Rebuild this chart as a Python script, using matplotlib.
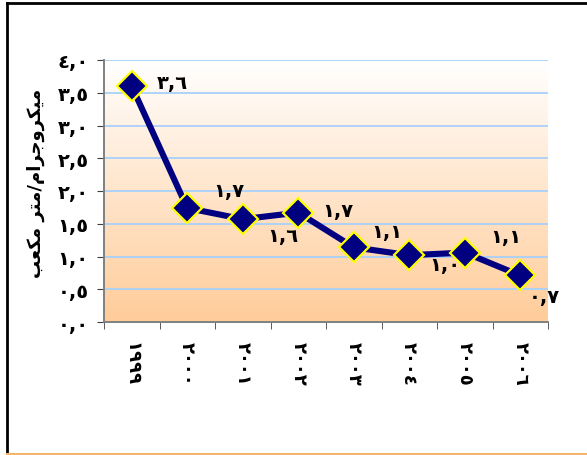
import numpy as np
import matplotlib.pyplot as plt
from matplotlib.lines import Line2D

# values
years = [1999, 2000, 2001, 2002, 2003, 2004, 2005, 2006]
values = [3.60, 1.74, 1.57, 1.67, 1.14, 1.02, 1.06, 0.71]
y_ticks = [0.0, 0.5, 1.0, 1.5, 2.0, 2.5, 3.0, 3.5, 4.0]

# label offsets in pixels (dx, dy up)
label_offsets = [(41, 4), (42, 18), (40, -16), (40, 2), (33, 16), (36, -9), (41, 16), (24, -21)]

# "ميكروجرام/متر مكعب" in presentation forms, visual order
ylabel_txt = "\ufe90\ufecc\ufedc\ufee3 \ufeae\ufe98\ufee3/\ufee1\ufe8d\ufeae\ufe9f\ufeed\ufeae\ufedc\ufef4\ufee3"

AR_DIGITS = str.maketrans("0123456789", "\u0660\u0661\u0662\u0663\u0664\u0665\u0666\u0667\u0668\u0669")


def ar_num(v):
    return ("%.1f" % v).replace(".", ",").translate(AR_DIGITS)


plt.rcParams['font.family'] = ['DejaVu Sans']
W, H = 587, 456
fig = plt.figure(figsize=(W / 100, H / 100), dpi=100)

# outer frame (top + left in black, bottom in orange)
fig.add_artist(Line2D([6.5 / W, 6.5 / W], [0, 1 - 4 / H], color='black', lw=2))
fig.add_artist(Line2D([6.5 / W, 1], [1 - 4 / H, 1 - 4 / H], color='black', lw=2))
fig.add_artist(Line2D([6.5 / W, 1], [1.2 / H, 1.2 / H], color='#F4B66A', lw=1.5))

left, right, bottom, top = 104, 548, 323, 61
ax = fig.add_axes([left / W, 1 - bottom / H, (right - left) / W, (bottom - top) / H])

x = np.arange(len(years))
ax.set_xlim(-0.5, len(years) - 0.5)
ax.set_ylim(0, 4)

# background gradient white (top) -> light orange (bottom)
grad = np.linspace(0, 1, 256)[:, None]
c_top = np.array([1.0, 1.0, 1.0])
c_bot = np.array([1.0, 0.80, 0.60])
img = c_top + (c_bot - c_top) * grad[..., None]
ax.imshow(img, extent=[-0.5, len(years) - 0.5, 0, 4], origin='upper', aspect='auto', zorder=0)

for yv in y_ticks[1:]:
    ax.axhline(yv, color='#A8D0FA', lw=1.3, zorder=1)

ax.plot(x, values, color='#000080', lw=4.4, zorder=3, solid_joinstyle='round')
ax.plot(x, values, linestyle='none', marker='D', markersize=15, markerfacecolor='#000080',
        markeredgecolor='#FFFF00', markeredgewidth=1.6, zorder=4)

for xi, v, (dx, dy) in zip(x, values, label_offsets):
    ax.annotate(ar_num(v), (xi, v), xytext=(dx * 0.72, dy * 0.72), textcoords='offset points',
                ha='center', va='center', fontsize=14, fontweight='bold', zorder=5)

for s in ['top', 'right']:
    ax.spines[s].set_visible(False)
ax.spines['left'].set_color('#808080')
ax.spines['bottom'].set_color('#808080')
ax.spines['left'].set_linewidth(1.4)
ax.spines['bottom'].set_linewidth(1.4)

ax.set_yticks(y_ticks)
ax.set_yticklabels([ar_num(v) for v in y_ticks], fontsize=14, fontweight='bold')
ax.tick_params(axis='y', length=5, color='#404040', pad=6)

ax.set_xticks(np.arange(-0.5, len(years)), minor=True)
ax.set_xticks(x)
ax.set_xticklabels([str(y).translate(AR_DIGITS) for y in years], rotation=-90,
                   fontsize=13, fontweight='bold')
ax.tick_params(axis='x', which='major', length=0, pad=14)
ax.tick_params(axis='x', which='minor', length=5, color='#404040')

fig.text(36 / W, 1 - 183 / H, ylabel_txt, rotation=90, ha='center', va='center',
         fontsize=13, fontweight='bold')

fig.savefig('out.png', dpi=100)
